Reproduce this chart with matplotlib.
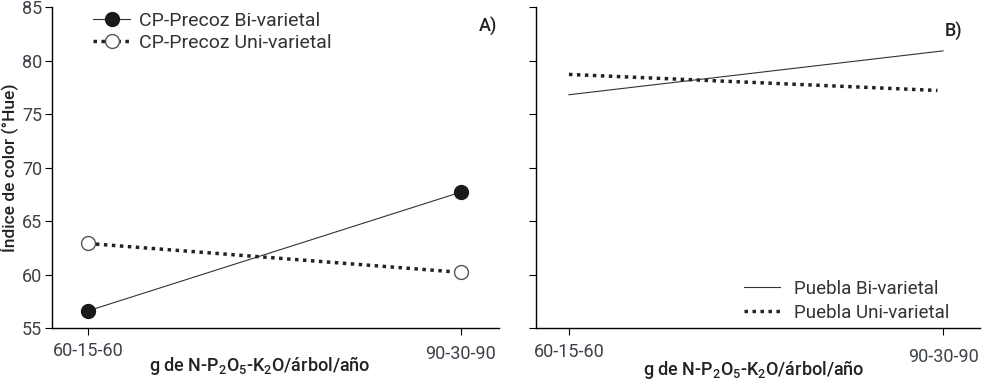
import matplotlib
matplotlib.use("Agg")
import matplotlib.pyplot as plt
import matplotlib.transforms as mtrans

plt.rcParams['font.family'] = ['Roboto', 'DejaVu Sans']

# Data
doses = ["60-15-60", "90-30-90"]
cp_bi = [56.6, 67.7]
cp_uni = [62.9, 60.2]
pue_bi = [76.8, 80.9]
pue_uni = [78.7, 77.2]
y_ticks = [55, 60, 65, 70, 75, 80, 85]

xlabel = r"g de N-P$_\mathregular{2}$O$_\mathregular{5}$-K$_\mathregular{2}$O/árbol/año"
xs = [0, 1]

fig = plt.figure(figsize=(9.83, 3.83), dpi=100)
axA = fig.add_axes([0.0529, 0.1436, 0.4547, 0.8381])
axB = fig.add_axes([0.5453, 0.1436, 0.4517, 0.8381])

tick_col = "#3d4148"
lab_col = "#222222"
leg_col = "#333333"

for ax in (axA, axB):
    ax.set_ylim(55, 85)
    ax.set_yticks(y_ticks)
    ax.set_xticks(xs)
    ax.set_xticklabels(doses)
    for s in ("top", "right"):
        ax.spines[s].set_visible(False)
    for s in ("left", "bottom"):
        ax.spines[s].set_linewidth(1.0)
    ax.tick_params(axis="both", direction="out", length=5, width=0.8,
                   labelsize=13, labelcolor=tick_col)
    ax.tick_params(axis="y", pad=2)
    ax.tick_params(axis="x", pad=5)

axA.set_xlim(-0.0965, 1.102)
axB.set_xlim(-0.088, 1.099)
axB.tick_params(axis="y", labelleft=False)

# x labels placed under each panel
axA.set_xlabel(xlabel, fontsize=13, fontweight="medium", color=lab_col, labelpad=0)
axA.xaxis.set_label_coords(0.465, -0.117)
axB.set_xlabel(xlabel, fontsize=13, fontweight="medium", color=lab_col, labelpad=0)
axB.xaxis.set_label_coords(0.49, -0.13)
axA.xaxis.label.set_va("center")
axB.xaxis.label.set_va("center")

# shift second x tick label down a little, as in the reference
for ax, dy in ((axA, [0, 3]), (axB, [1, 6])):
    for lbl, d in zip(ax.get_xticklabels(), dy):
        lbl.set_transform(lbl.get_transform() +
                          mtrans.ScaledTranslation(0, -d / 100, fig.dpi_scale_trans))

# Panel A
axA.plot(xs, cp_bi, color="#333333", lw=0.8, marker="o", ms=10,
         mfc="#1a1a1a", mec="#1a1a1a", label="CP-Precoz Bi-varietal")
axA.plot(xs, cp_uni, color="#222222", lw=2.5, ls=(0, (1, 1.3)), marker="o", ms=10,
         mfc="white", mec="#555555", mew=1.0, label="CP-Precoz Uni-varietal")
axA.set_ylabel("Índice de color (°Hue)", fontsize=12.5, fontweight="medium",
               color=lab_col, labelpad=3)
axA.legend(loc="upper left", bbox_to_anchor=(0.092, 0.985), frameon=False,
           borderpad=0, borderaxespad=0,
           prop={"size": 14}, handlelength=1.9,
           handletextpad=0.45, labelspacing=0.2, labelcolor=leg_col)
axA.text(0.997, 0.94, "A)", transform=axA.transAxes, ha="right", va="center",
         fontsize=13, fontweight="medium", color=lab_col)

# Panel B
axB.plot(xs, pue_bi, color="#333333", lw=0.8, label="Puebla Bi-varietal")
axB.plot([0, 0.985], pue_uni, color="#222222", lw=2.5, ls=(0, (1, 1.3)),
         label="Puebla Uni-varietal")
axB.legend(loc="lower right", bbox_to_anchor=(0.93, 0.02), frameon=False,
           borderpad=0, borderaxespad=0,
           prop={"size": 13.5}, handlelength=1.9,
           handletextpad=0.75, labelspacing=0.3, labelcolor=leg_col)
axB.text(0.96, 0.925, "B)", transform=axB.transAxes, ha="right", va="center",
         fontsize=13, fontweight="medium", color=lab_col)

fig.savefig("out.png", dpi=100)
